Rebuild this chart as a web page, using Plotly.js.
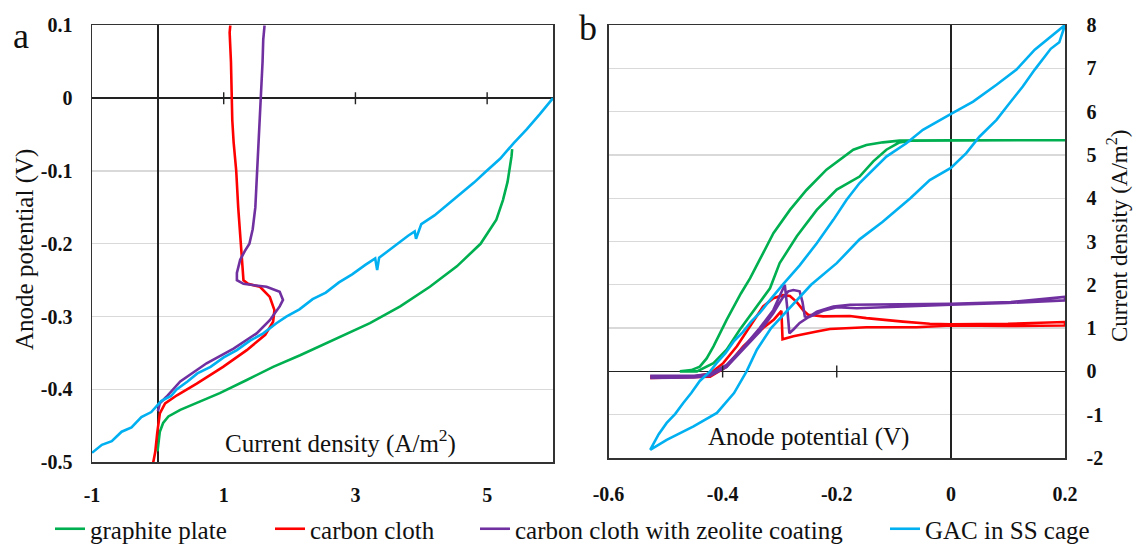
<!DOCTYPE html>
<html>
<head>
<meta charset="utf-8">
<script src="https://cdn.plot.ly/plotly-3.0.1.min.js"></script>
<style>
html,body{margin:0;padding:0;background:#fff;}
#chart{width:1134px;height:544px;}
</style>
</head>
<body>
<div id="chart"></div>
<script>
// ---------- Panel a: current density (x) vs anode potential (y) ----------
const graphiteA_x = [-0.005, 0.01, 0.03, 0.08, 0.16, 0.34, 0.64, 0.94, 1.35, 1.75, 2.16, 2.66, 3.22, 3.68, 4.13, 4.54, 4.9, 5.14, 5.24, 5.31, 5.35, 5.37, 5.38];
const graphiteA_y = [-0.485, -0.47, -0.458, -0.446, -0.437, -0.428, -0.417, -0.405, -0.387, -0.369, -0.353, -0.332, -0.309, -0.286, -0.259, -0.231, -0.2, -0.167, -0.14, -0.115, -0.095, -0.08, -0.07];

const clothA_x = [1.10, 1.09, 1.11, 1.12, 1.13, 1.15, 1.19, 1.22, 1.25, 1.28, 1.30, 1.37, 1.55, 1.70, 1.77, 1.75, 1.63, 1.35, 0.99, 0.59, 0.29, 0.11, 0.03, -0.01, -0.04, -0.07];
const clothA_y = [0.1, 0.09, 0.05, 0.0, -0.03, -0.06, -0.1, -0.15, -0.19, -0.222, -0.25, -0.255, -0.259, -0.273, -0.291, -0.307, -0.325, -0.346, -0.369, -0.392, -0.408, -0.419, -0.433, -0.46, -0.486, -0.5];

const zeoliteA_x = [1.62, 1.60, 1.59, 1.56, 1.53, 1.50, 1.48, 1.44, 1.39, 1.32, 1.25, 1.20, 1.20, 1.30, 1.65, 1.85, 1.90, 1.85, 1.70, 1.50, 1.15, 0.74, 0.34, 0.13, 0.03, 0.0];
const zeoliteA_y = [0.1, 0.08, 0.05, 0.0, -0.05, -0.1, -0.15, -0.18, -0.2, -0.21, -0.222, -0.24, -0.25, -0.255, -0.259, -0.266, -0.277, -0.286, -0.305, -0.323, -0.344, -0.364, -0.389, -0.41, -0.419, -0.43];

const gacA_x = [-1.0, -0.85, -0.7, -0.55, -0.4, -0.25, -0.1, 0.05, 0.2, 0.285, 0.45, 0.6, 0.8, 1.0, 1.2, 1.4, 1.6, 1.8, 1.95, 2.15, 2.35, 2.55, 2.75, 2.95, 3.15, 3.3, 3.33, 3.36, 3.45, 3.63, 3.8, 3.9, 3.92, 4.0, 4.2, 4.4, 4.6, 4.8, 4.99, 5.2, 5.4, 5.6, 5.8, 6.0];
const gacA_y = [-0.487, -0.476, -0.471, -0.458, -0.452, -0.438, -0.431, -0.416, -0.409, -0.400, -0.389, -0.378, -0.369, -0.356, -0.346, -0.333, -0.323, -0.309, -0.300, -0.290, -0.276, -0.267, -0.253, -0.242, -0.229, -0.220, -0.236, -0.219, -0.213, -0.200, -0.189, -0.183, -0.193, -0.173, -0.161, -0.146, -0.131, -0.116, -0.100, -0.083, -0.062, -0.043, -0.022, 0.0];

// ---------- Panel b: anode potential (x) vs current density (y) ----------
const graphiteB_x = [-0.475, -0.455, -0.44, -0.428, -0.416, -0.393, -0.368, -0.352, -0.335, -0.311, -0.282, -0.253, -0.218, -0.195, -0.171, -0.148, -0.119, -0.09, 0.0, 0.2, -0.07, -0.09, -0.113, -0.136, -0.16, -0.2, -0.235, -0.27, -0.3, -0.317, -0.34, -0.37, -0.393, -0.416, -0.445, -0.475];
const graphiteB_y = [0.0, 0.03, 0.11, 0.3, 0.58, 1.19, 1.8, 2.15, 2.58, 3.19, 3.73, 4.19, 4.66, 4.89, 5.12, 5.23, 5.29, 5.33, 5.34, 5.34, 5.33, 5.29, 5.12, 4.85, 4.5, 4.2, 3.73, 3.12, 2.5, 1.92, 1.5, 0.96, 0.5, 0.19, 0.0, 0.0];

const clothB_x = [-0.527, -0.48, -0.45, -0.422, -0.399, -0.375, -0.352, -0.329, -0.311, -0.294, -0.282, -0.27, -0.258, -0.25, -0.224, -0.177, -0.148, -0.119, -0.084, -0.037, 0.0, 0.1, 0.2, 0.2, 0.1, 0.0, -0.06, -0.148, -0.212, -0.235, -0.276, -0.295, -0.297, -0.31, -0.329, -0.364, -0.393, -0.422, -0.527];
const clothB_y = [-0.12, -0.13, -0.12, -0.05, 0.19, 0.58, 1.04, 1.5, 1.69, 1.76, 1.74, 1.6, 1.4, 1.31, 1.27, 1.28, 1.23, 1.19, 1.15, 1.10, 1.09, 1.1, 1.14, 1.06, 1.05, 1.06, 1.02, 1.02, 0.98, 0.92, 0.81, 0.74, 1.4, 1.2, 1.0, 0.58, 0.11, -0.12, -0.15];

const zeoliteB_x = [-0.527, -0.45, -0.422, -0.393, -0.364, -0.335, -0.311, -0.297, -0.291, -0.287, -0.283, -0.275, -0.265, -0.235, -0.206, -0.177, -0.119, 0.0, 0.105, 0.2, 0.2, 0.1, 0.0, -0.113, -0.165, -0.2, -0.224, -0.25, -0.256, -0.26, -0.265, -0.276, -0.285, -0.295, -0.311, -0.335, -0.364, -0.393, -0.422, -0.45, -0.527];
const zeoliteB_y = [-0.1, -0.1, -0.06, 0.15, 0.55, 1.0, 1.42, 1.81, 2.0, 1.5, 0.88, 0.98, 1.12, 1.38, 1.5, 1.54, 1.55, 1.56, 1.6, 1.72, 1.64, 1.58, 1.54, 1.48, 1.46, 1.48, 1.40, 1.25, 1.27, 1.6, 1.85, 1.88, 1.85, 1.7, 1.35, 0.92, 0.5, 0.1, -0.1, -0.14, -0.15];

const gacB_x = [-0.527, -0.512, -0.498, -0.483, -0.469, -0.455, -0.44, -0.422, -0.41, -0.395, -0.38, -0.365, -0.35, -0.335, -0.32, -0.295, -0.265, -0.235, -0.206, -0.183, -0.16, -0.148, -0.113, -0.078, -0.049, -0.002, 0.039, 0.08, 0.115, 0.147, 0.175, 0.2, 0.19, 0.175, 0.147, 0.126, 0.103, 0.08, 0.05, 0.027, 0.0, -0.037, -0.071, -0.12, -0.16, -0.2, -0.245, -0.28, -0.315, -0.34, -0.358, -0.38, -0.41, -0.451, -0.498, -0.527];
const gacB_y = [-1.81, -1.45, -1.19, -0.98, -0.73, -0.5, -0.22, 0.0, 0.2, 0.42, 0.7, 0.9, 1.15, 1.35, 1.6, 2.0, 2.45, 2.96, 3.5, 3.96, 4.35, 4.5, 4.96, 5.27, 5.58, 5.93, 6.23, 6.62, 6.97, 7.43, 7.72, 8.0, 7.6, 7.45, 6.97, 6.58, 6.2, 5.81, 5.42, 5.04, 4.7, 4.42, 4.0, 3.45, 3.05, 2.5, 2.0, 1.5, 1.0, 0.5, 0.0, -0.5, -0.96, -1.27, -1.58, -1.81];

// ---------- labels ----------
const seriesNames = ["graphite plate", "carbon cloth", "carbon cloth with zeolite coating", "GAC in SS cage"];
const seriesColors = ["#00B050", "#FF0000", "#7030A0", "#00B0F0"];
const xTicksA = [-1, 1, 3, 5], xTickTextA = ["-1", "1", "3", "5"];
const yTicksA = [0.1, 0, -0.1, -0.2, -0.3, -0.4, -0.5], yTickTextA = ["0.1", "0", "-0.1", "-0.2", "-0.3", "-0.4", "-0.5"];
const xTicksB = [-0.6, -0.4, -0.2, 0, 0.2], xTickTextB = ["-0.6", "-0.4", "-0.2", "0", "0.2"];
const yTicksB = [8, 7, 6, 5, 4, 3, 2, 1, 0, -1, -2], yTickTextB = ["8", "7", "6", "5", "4", "3", "2", "1", "0", "-1", "-2"];
const crossTicksA = [1, 3, 5], crossTicksB = [-0.4, -0.2];

const W = 1134, H = 544;
const FONT = "Liberation Serif";
const px = p => p / W, py = p => 1 - p / H;

const domXA = [px(92), px(553)], domYA = [py(462.3), py(25.3)];
const domXB = [px(608.5), px(1065)], domYB = [py(458), py(25)];
const rXA = [-1, 6], rYA = [-0.5, 0.1], rXB = [-0.6, 0.2], rYB = [-2, 8];

const dataA = [[graphiteA_x, graphiteA_y], [clothA_x, clothA_y], [zeoliteA_x, zeoliteA_y], [gacA_x, gacA_y]];
const dataB = [[graphiteB_x, graphiteB_y], [clothB_x, clothB_y], [zeoliteB_x, zeoliteB_y], [gacB_x, gacB_y]];
const legendIds = ["legend", "legend2", "legend3", "legend4"];
const traces = [];
dataA.forEach((d, i) => traces.push({
  x: d[0], y: d[1], xaxis: "x", yaxis: "y", mode: "lines", name: seriesNames[i],
  line: {color: seriesColors[i], width: 2.6}, legend: legendIds[i], showlegend: true
}));
dataB.forEach((d, i) => traces.push({
  x: d[0], y: d[1], xaxis: "x2", yaxis: "y2", mode: "lines", name: seriesNames[i],
  line: {color: seriesColors[i], width: 2.6}, legend: legendIds[i], showlegend: false
}));

// tick marks crossing the zero line (axis decoration, pixel sized, anchored at y = 0)
const crossShape = (xr, yr) => v => ({type: "line", xref: xr, yref: yr, ysizemode: "pixel", yanchor: 0,
  x0: v, x1: v, y0: -6, y1: 6, line: {color: "#222", width: 1.4}});
const shapes = crossTicksA.map(crossShape("x", "y")).concat(crossTicksB.map(crossShape("x2", "y2")));

const tickFont = {family: FONT, size: 20, color: "#111", weight: "bold"};
const boxAxis = {showline: true, mirror: true, linecolor: "#333", linewidth: 1.5, ticks: "", fixedrange: true};
const legendBase = x => ({x: px(x), xanchor: "left", y: py(529), yanchor: "middle", orientation: "h",
  font: {family: FONT, size: 25, color: "#111"}, bgcolor: "rgba(0,0,0,0)", borderwidth: 0});
const note = (text, x, y, size, angle) => ({text: text, x: px(x), y: py(y), xref: "paper", yref: "paper",
  xanchor: "center", yanchor: "middle", showarrow: false, textangle: angle || 0,
  font: {family: FONT, size: size, color: "#111"}});

const layout = {
  width: W, height: H, margin: {l: 0, r: 0, t: 0, b: 0, autoexpand: false},
  paper_bgcolor: "#fff", plot_bgcolor: "#fff", font: {family: FONT},
  xaxis: Object.assign({}, boxAxis, {domain: domXA, range: rXA, anchor: "y", tickvals: xTicksA, ticktext: xTickTextA,
    tickfont: tickFont, ticklabelstandoff: 14, showgrid: false, zeroline: true, zerolinecolor: "#222", zerolinewidth: 1.3}),
  yaxis: Object.assign({}, boxAxis, {domain: domYA, range: rYA, anchor: "x", tickvals: yTicksA, ticktext: yTickTextA,
    tickfont: tickFont, ticklabelstandoff: 14, showgrid: true, gridcolor: "#d9d9d9", gridwidth: 1.3,
    zeroline: true, zerolinecolor: "#222", zerolinewidth: 1.3}),
  xaxis2: Object.assign({}, boxAxis, {domain: domXB, range: rXB, anchor: "y2", tickvals: xTicksB, ticktext: xTickTextB,
    tickfont: tickFont, ticklabelstandoff: 17, showgrid: false, zeroline: true, zerolinecolor: "#222", zerolinewidth: 1.3}),
  yaxis2: Object.assign({}, boxAxis, {domain: domYB, range: rYB, anchor: "x2", side: "right", tickvals: yTicksB, ticktext: yTickTextB,
    tickfont: tickFont, ticklabelstandoff: 16, showgrid: true, gridcolor: "#d9d9d9", gridwidth: 1.3,
    zeroline: true, zerolinecolor: "#222", zerolinewidth: 1.3}),
  shapes: shapes,
  legend: legendBase(50),
  legend2: legendBase(270),
  legend3: legendBase(475),
  legend4: legendBase(885),
  annotations: [
    note("a", 21, 36, 36),
    note("b", 588, 28, 36),
    note("Current density (A/m<sup>2</sup>)", 340, 441, 25),
    note("Anode potential (V)", 808, 437, 25),
    note("Anode potential (V)", 25, 250, 25, -90),
    note("Current density (A/m<sup>2</sup>)", 1117, 236, 23, -90)
  ]
};

Plotly.newPlot("chart", traces, layout, {staticPlot: true, displayModeBar: false});
</script>
</body>
</html>
